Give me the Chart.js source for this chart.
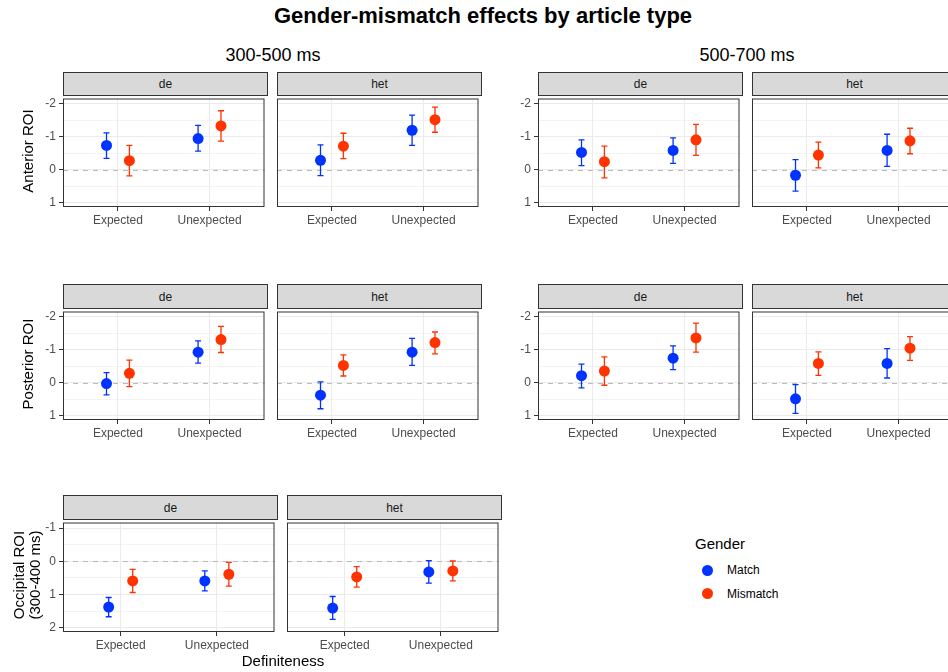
<!DOCTYPE html>
<html>
<head>
<meta charset="utf-8">
<script src="https://cdn.jsdelivr.net/npm/chart.js@4/dist/chart.umd.min.js"></script>
<style>
  html, body { margin: 0; padding: 0; background: #fff; }
  body { width: 948px; height: 672px; position: relative; overflow: hidden;
         font-family: "Liberation Sans", Arial, sans-serif; color: #000; }
  .abs { position: absolute; white-space: nowrap; }
  .strip { position: absolute; box-sizing: border-box; background: #D9D9D9;
           border: 1px solid #333; color: #1A1A1A; font-size: 12px;
           display: flex; align-items: center; justify-content: center; }
  canvas { position: absolute; }
  .dot { position: absolute; width: 11px; height: 11px; border-radius: 50%; }
</style>
</head>
<body>
<script>
  const categories = ['Expected', 'Unexpected'];
  const articles = ['de', 'het'];
  const genders = ['Match', 'Mismatch'];
  const genderColors = ['#0033FF', '#FF3300'];
  const yTicksERP = [-2, -1, 0, 1];
  const yTicksOcc = [-1, 0, 1, 2];

  // order in every array: de-Expected, de-Unexpected, het-Expected, het-Unexpected
  // Anterior ROI, 300-500 ms
  const ant1Match   = [-0.73, -0.94, -0.28, -1.19];
  const ant1MatchLo = [-1.11, -1.34, -0.75, -1.65];
  const ant1MatchHi = [-0.34, -0.56,  0.18, -0.73];
  const ant1Mis     = [-0.27, -1.32, -0.71, -1.51];
  const ant1MisLo   = [-0.73, -1.78, -1.10, -1.89];
  const ant1MisHi   = [ 0.19, -0.86, -0.33, -1.13];
  // Anterior ROI, 500-700 ms
  const ant2Match   = [-0.52, -0.58,  0.17, -0.58];
  const ant2MatchLo = [-0.90, -0.96, -0.30, -1.07];
  const ant2MatchHi = [-0.12, -0.19,  0.65, -0.10];
  const ant2Mis     = [-0.24, -0.90, -0.44, -0.87];
  const ant2MisLo   = [-0.71, -1.37, -0.83, -1.25];
  const ant2MisHi   = [ 0.25, -0.43, -0.05, -0.48];
  // Posterior ROI, 300-500 ms
  const pos1Match   = [ 0.03, -0.92,  0.38, -0.92];
  const pos1MatchLo = [-0.30, -1.26, -0.02, -1.34];
  const pos1MatchHi = [ 0.37, -0.59,  0.79, -0.52];
  const pos1Mis     = [-0.28, -1.30, -0.52, -1.21];
  const pos1MisLo   = [-0.68, -1.70, -0.84, -1.53];
  const pos1MisHi   = [ 0.12, -0.91, -0.20, -0.87];
  // Posterior ROI, 500-700 ms
  const pos2Match   = [-0.21, -0.74,  0.49, -0.58];
  const pos2MatchLo = [-0.56, -1.11,  0.06, -1.03];
  const pos2MatchHi = [ 0.16, -0.39,  0.93, -0.14];
  const pos2Mis     = [-0.35, -1.35, -0.58, -1.04];
  const pos2MisLo   = [-0.78, -1.80, -0.93, -1.39];
  const pos2MisHi   = [ 0.08, -0.92, -0.22, -0.67];
  // Occipital ROI, 300-400 ms
  const occMatch   = [1.38, 0.59, 1.41,  0.32];
  const occMatchLo = [1.09, 0.29, 1.06, -0.02];
  const occMatchHi = [1.67, 0.89, 1.75,  0.66];
  const occMis     = [0.59, 0.39, 0.47,  0.29];
  const occMisLo   = [0.24, 0.03, 0.16, -0.01];
  const occMisHi   = [0.94, 0.75, 0.78,  0.59];

  const FONT = '"Liberation Sans", Arial, sans-serif';
  const DODGE = 0.125;

  function addText(txt, x, y, css, rot) {
    const d = document.createElement('div');
    d.className = 'abs';
    d.textContent = txt;
    d.style.left = x + 'px';
    d.style.top = y + 'px';
    d.style.transform = 'translate(-50%,-50%)' + (rot ? ' rotate(-90deg)' : '');
    Object.assign(d.style, css || {});
    document.body.appendChild(d);
    return d;
  }

  const panelDeco = {
    id: 'panelDeco',
    beforeDatasetsDraw(chart) {
      const { ctx, chartArea: a } = chart;
      const x = chart.scales.x, y = chart.scales.y;
      ctx.save();
      // dashed zero reference
      const y0 = Math.round(y.getPixelForValue(0)) + 0.5;
      ctx.strokeStyle = '#BBBBBB';
      ctx.lineWidth = 1.1;
      ctx.setLineDash([5, 5]);
      ctx.beginPath(); ctx.moveTo(a.left, y0); ctx.lineTo(a.right, y0); ctx.stroke();
      ctx.setLineDash([]);
      // error bars
      chart.data.datasets.forEach(ds => {
        ctx.strokeStyle = ds.borderColor;
        ctx.lineWidth = 1.3;
        ds.data.forEach(p => {
          const px = x.getPixelForValue(p.x);
          const t = y.getPixelForValue(p.lo), b = y.getPixelForValue(p.hi);
          ctx.beginPath();
          ctx.moveTo(px, t); ctx.lineTo(px, b);
          ctx.moveTo(px - 3, t); ctx.lineTo(px + 3, t);
          ctx.moveTo(px - 3, b); ctx.lineTo(px + 3, b);
          ctx.stroke();
        });
      });
      ctx.restore();
    },
    afterDraw(chart) {
      const { ctx, chartArea: a } = chart;
      ctx.save();
      ctx.strokeStyle = '#333333';
      ctx.lineWidth = 1;
      ctx.strokeRect(a.left + 0.5, a.top + 0.5, a.right - a.left - 1, a.bottom - a.top - 1);
      ctx.restore();
    }
  };

  function makePanel(px, stripTop, plotTop, pw, ph, article, showY, yTicks, yMin, yMax,
                     mean1, lo1, hi1, mean2, lo2, hi2, k) {
    const strip = document.createElement('div');
    strip.className = 'strip';
    strip.textContent = article;
    Object.assign(strip.style, { left: px + 'px', top: stripTop + 'px',
      width: pw + 'px', height: (plotTop - stripTop + 1) + 'px' });
    document.body.appendChild(strip);

    const cv = document.createElement('canvas');
    cv.width = pw + 42; cv.height = ph + 24;
    cv.style.left = (px - 40) + 'px';
    cv.style.top = (plotTop - 2) + 'px';
    document.body.appendChild(cv);

    const means = [mean1, mean2], los = [lo1, lo2], his = [hi1, hi2];
    const datasets = genders.map((g, gi) => ({
      label: g,
      data: categories.map((c, ci) => ({
        x: ci + 1 + (gi === 0 ? -DODGE : DODGE),
        y: means[gi][k * 2 + ci],
        lo: los[gi][k * 2 + ci],
        hi: his[gi][k * 2 + ci]
      })),
      backgroundColor: genderColors[gi],
      borderColor: genderColors[gi],
      borderWidth: 0,
      pointRadius: 5.5,
      pointHoverRadius: 5.5
    }));

    const minor = yTicks.slice(0, -1).map(v => v + 0.5);
    new Chart(cv, {
      type: 'scatter',
      data: { datasets: datasets },
      options: {
        responsive: false,
        animation: false,
        devicePixelRatio: 1,
        layout: { padding: { top: 2, right: 2, left: 0, bottom: 0 } },
        plugins: { legend: { display: false }, tooltip: { enabled: false } },
        scales: {
          x: {
            type: 'linear', min: 0.4, max: 2.6,
            afterBuildTicks: s => { s.ticks = categories.map((c, i) => ({ value: i + 1 })); },
            afterFit: s => { s.height = 22; s.paddingLeft = 0; s.paddingRight = 0; },
            ticks: { callback: v => categories[v - 1], color: '#4D4D4D',
                     font: { family: FONT, size: 12 }, padding: 2, autoSkip: false, maxRotation: 0 },
            grid: { color: '#EBEBEB', lineWidth: 1, tickColor: '#333333', tickLength: 4 },
            border: { display: false }
          },
          y: {
            type: 'linear', reverse: true, min: yMin, max: yMax,
            afterBuildTicks: s => { s.ticks = yTicks.concat(minor).map(v => ({ value: v })); },
            afterFit: s => { s.width = 40; s.paddingTop = 0; s.paddingBottom = 0; },
            ticks: { display: showY, callback: v => Number.isInteger(v) ? String(v) : '',
                     color: '#4D4D4D', font: { family: FONT, size: 12 }, padding: 3, autoSkip: false },
            grid: {
              color: '#EBEBEB',
              lineWidth: c => Number.isInteger(c.tick.value) ? 1 : 0.6,
              drawTicks: showY,
              tickColor: c => Number.isInteger(c.tick.value) ? '#333333' : 'rgba(0,0,0,0)',
              tickLength: 4
            },
            border: { display: false }
          }
        }
      },
      plugins: [panelDeco]
    });
  }

  function makeRow(xs, stripTop, plotTop, pw, ph, yTicks, yMin, yMax, m1, l1, h1, m2, l2, h2) {
    articles.forEach((art, k) => {
      makePanel(xs[k], stripTop, plotTop, pw, ph, art, k === 0, yTicks, yMin, yMax,
                m1, l1, h1, m2, l2, h2, k);
    });
  }

  const leftX = [63, 277], rightX = [538, 752], occX = [63, 287];
  makeRow(leftX, 72, 95, 205, 112, yTicksERP, -2.15, 1.13,
          ant1Match, ant1MatchLo, ant1MatchHi, ant1Mis, ant1MisLo, ant1MisHi);
  makeRow(rightX, 72, 95, 205, 112, yTicksERP, -2.15, 1.13,
          ant2Match, ant2MatchLo, ant2MatchHi, ant2Mis, ant2MisLo, ant2MisHi);
  makeRow(leftX, 284, 308, 205, 112, yTicksERP, -2.15, 1.13,
          pos1Match, pos1MatchLo, pos1MatchHi, pos1Mis, pos1MisLo, pos1MisHi);
  makeRow(rightX, 284, 308, 205, 112, yTicksERP, -2.15, 1.13,
          pos2Match, pos2MatchLo, pos2MatchHi, pos2Mis, pos2MisLo, pos2MisHi);
  makeRow(occX, 495, 519, 215, 113, yTicksOcc, -1.17, 2.13,
          occMatch, occMatchLo, occMatchHi, occMis, occMisLo, occMisHi);

  // titles and axis labels
  addText('Gender-mismatch effects by article type', 483, 16,
          { fontSize: '22px', fontWeight: 'bold' });
  addText('300-500 ms', 273, 55, { fontSize: '18px' });
  addText('500-700 ms', 747, 55, { fontSize: '18px' });
  addText('Anterior ROI', 27, 151, { fontSize: '15px', color: '#000' }, true);
  addText('Posterior ROI', 27, 364, { fontSize: '15px', color: '#000' }, true);
  const occ = addText('Occipital ROI', 27, 575, { fontSize: '15px', lineHeight: '16px',
                       textAlign: 'center', whiteSpace: 'pre' }, true);
  occ.textContent = 'Occipital ROI\n(300-400 ms)';
  addText('Definiteness', 283, 660, { fontSize: '15px' });

  // legend
  const lg = addText('Gender', 0, 0, { fontSize: '15px', transform: 'none' });
  lg.style.left = '695px'; lg.style.top = '535px';
  genders.forEach((g, i) => {
    const cy = 570 + i * 23.5;
    const d = document.createElement('div');
    d.className = 'dot';
    d.style.background = genderColors[i];
    d.style.left = (707 - 5.5) + 'px';
    d.style.top = (cy - 5.5) + 'px';
    document.body.appendChild(d);
    const t = addText(g, 0, 0, { fontSize: '12px', transform: 'translate(0,-50%)' });
    t.style.left = '727px'; t.style.top = cy + 'px';
  });
</script>
</body>
</html>
